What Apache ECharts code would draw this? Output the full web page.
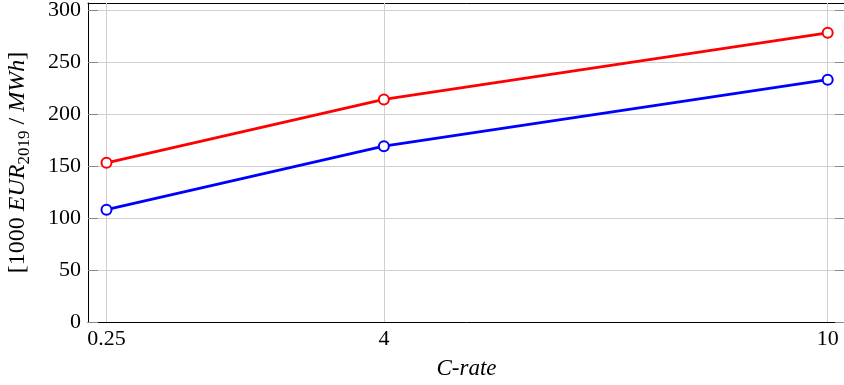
<!DOCTYPE html>
<html>
<head>
<meta charset="utf-8">
<script src="https://cdn.jsdelivr.net/npm/echarts@6/dist/echarts.min.js"></script>
<style>
  html, body { margin: 0; padding: 0; background: #fff; }
  #chart { width: 844px; height: 385px; }
</style>
</head>
<body>
<div id="chart"></div>
<script>
// C-rate values on the horizontal axis
const cRates = [0.25, 4, 10];
// Cost per MWh, upper and lower series
const costHigh = [153, 214, 278];
const costLow = [108, 169, 233];
// Tick labels
const xTicks = [0.25, 4, 10];
const yTicks = [0, 50, 100, 150, 200, 250, 300];

const FONT = '"Liberation Serif", "DejaVu Serif", serif';
const GRID_COLOR = '#cfcfcf';
const TICK_COLOR = '#8a8a8a';

const pairs = (xs, ys) => xs.map((x, i) => [x, ys[i]]);

const chart = echarts.init(document.getElementById('chart'), null, { renderer: 'canvas' });

const xBase = {
  type: 'value', min: 0, max: 10.234,
  axisLine: { show: true, onZero: false, lineStyle: { color: '#000', width: 1 } },
  axisTick: { show: true, inside: true, length: 10, customValues: xTicks, lineStyle: { color: TICK_COLOR, width: 1 } },
  splitLine: { show: false }
};
const yBase = {
  type: 'value', min: 0, max: 306.7, interval: 50,
  axisLine: { show: true, onZero: false, lineStyle: { color: '#000', width: 1 } },
  axisTick: { show: true, inside: true, length: 10, customValues: yTicks, lineStyle: { color: TICK_COLOR, width: 1 } },
  splitLine: { show: false }
};

chart.setOption({
  animation: false,
  backgroundColor: '#fff',
  grid: { left: 88, right: -1, top: 3, bottom: 63, containLabel: false, outerBoundsMode: 'none' },
  xAxis: [
    Object.assign({}, xBase, {
      position: 'bottom',
      name: 'C-rate',
      nameLocation: 'middle',
      nameGap: 35,
      nameTextStyle: { fontFamily: FONT, fontSize: 23, fontStyle: 'italic', color: '#000' },
      axisLabel: {
        show: true, customValues: xTicks, margin: 6,
        fontFamily: FONT, fontSize: 22, color: '#000',
        formatter: v => String(v)
      }
    }),
    Object.assign({}, xBase, { position: 'top', axisLabel: { show: false } })
  ],
  yAxis: [
    Object.assign({}, yBase, {
      position: 'left',
      name: '{t|[1000 }{i|EUR}{sub|2019}{t| / }{i|MWh}{t|]}',
      nameLocation: 'middle',
      nameRotate: 90,
      nameGap: 55,
      nameTextStyle: {
        color: '#000',
        rich: {
          t: { fontFamily: FONT, fontSize: 24, color: '#000' },
          i: { fontFamily: FONT, fontSize: 24, fontStyle: 'italic', color: '#000' },
          sub: { fontFamily: FONT, fontSize: 17, color: '#000', verticalAlign: 'bottom', padding: [14, 0, 0, 0] }
        }
      },
      axisLabel: {
        show: true, margin: 7,
        fontFamily: FONT, fontSize: 22, color: '#000',
        formatter: v => (yTicks.indexOf(v) >= 0 ? String(v) : '')
      },
      splitLine: { show: true, lineStyle: { color: GRID_COLOR, width: 1 } }
    }),
    Object.assign({}, yBase, { position: 'right', axisLabel: { show: false } })
  ],
  series: [
    {
      // vertical grid lines at the labelled C-rates
      type: 'line', data: [], silent: true, z: 1,
      markLine: {
        silent: true, symbol: 'none', z: 1, animation: false,
        label: { show: false },
        lineStyle: { color: GRID_COLOR, width: 1, type: 'solid' },
        data: xTicks.map(v => ({ xAxis: v }))
      }
    },
    {
      name: 'high', type: 'line', z: 3,
      data: pairs(cRates, costHigh),
      symbol: 'emptyCircle', symbolSize: 10,
      lineStyle: { color: '#ff0000', width: 2.8 },
      itemStyle: { color: '#ff0000', borderColor: '#ff0000', borderWidth: 3 }
    },
    {
      name: 'low', type: 'line', z: 3,
      data: pairs(cRates, costLow),
      symbol: 'emptyCircle', symbolSize: 10,
      lineStyle: { color: '#0000ff', width: 2.8 },
      itemStyle: { color: '#0000ff', borderColor: '#0000ff', borderWidth: 3 }
    }
  ]
});
</script>
</body>
</html>
